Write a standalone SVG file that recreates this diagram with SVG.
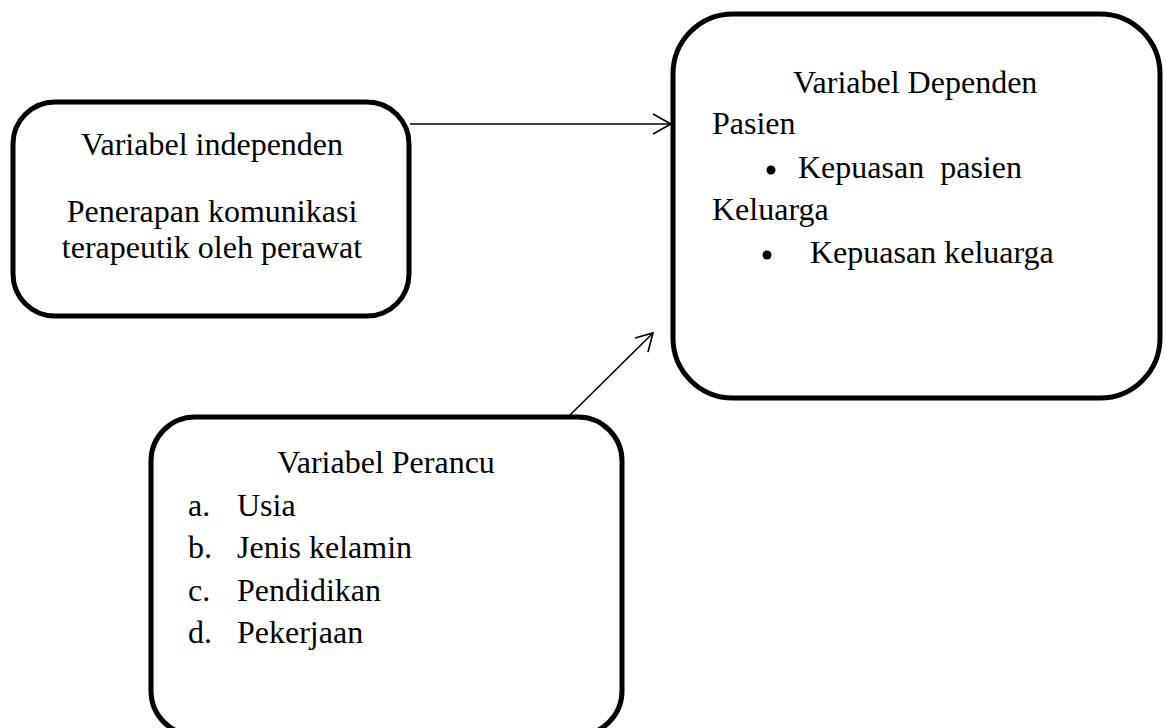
<svg xmlns="http://www.w3.org/2000/svg" width="1166" height="728" viewBox="0 0 1166 728">
  <style>
    .box { fill: #ffffff; stroke: #000000; stroke-width: 5; }
    .t { font-family: "Liberation Serif", "Times New Roman", serif; font-size: 32px; fill: #000000; }
    .c { text-anchor: middle; }
    .conn { stroke: #000000; stroke-width: 1.6; fill: none; }
  </style>
  <rect width="1166" height="728" fill="#ffffff"/>
  <g id="node-independen">
    <rect class="box" x="13" y="102" width="396" height="214" rx="42" ry="42"/>
    <text class="t c" x="212" y="155">Variabel independen</text>
    <text class="t c" x="212" y="222">Penerapan komunikasi</text>
    <text class="t c" x="212" y="258">terapeutik oleh perawat</text>
  </g>
  <g id="node-dependen">
    <rect class="box" x="673" y="14" width="487" height="384" rx="60" ry="60"/>
    <text class="t" x="793" y="93">Variabel Dependen</text>
    <text class="t" x="712" y="134">Pasien</text>
    <circle cx="771" cy="170" r="4.5" fill="#000"/>
    <text class="t" x="798" y="178" xml:space="preserve">Kepuasan  pasien</text>
    <text class="t" x="712" y="220">Keluarga</text>
    <circle cx="767" cy="255" r="4.5" fill="#000"/>
    <text class="t" x="810" y="263">Kepuasan keluarga</text>
  </g>
  <g id="node-perancu">
    <rect class="box" x="151" y="417" width="471" height="318" rx="44" ry="44"/>
    <text class="t c" x="386" y="473">Variabel Perancu</text>
    <text class="t" x="188" y="516">a.</text>
    <text class="t" x="237" y="516">Usia</text>
    <text class="t" x="188" y="558">b.</text>
    <text class="t" x="237" y="558">Jenis kelamin</text>
    <text class="t" x="188" y="601">c.</text>
    <text class="t" x="237" y="601">Pendidikan</text>
    <text class="t" x="188" y="643">d.</text>
    <text class="t" x="237" y="643">Pekerjaan</text>
  </g>
  <g id="connectors">
    <line class="conn" x1="410" y1="124" x2="671" y2="124"/>
    <polyline class="conn" points="653,114 671,124 653,134"/>
    <line class="conn" x1="570" y1="415" x2="653" y2="333"/>
    <polyline class="conn" points="635,338 653,333 648,352"/>
  </g>
</svg>
